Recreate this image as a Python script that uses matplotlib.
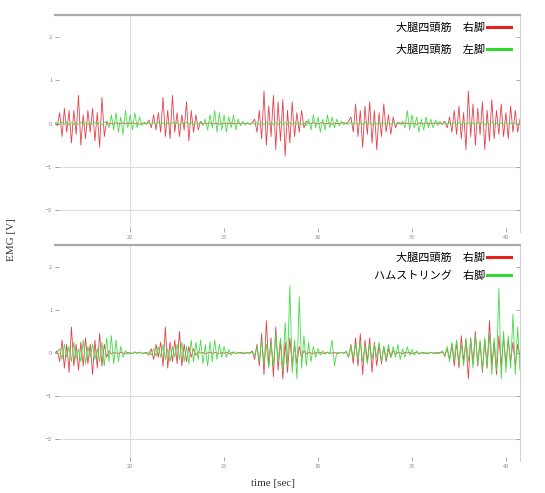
import numpy as np
import matplotlib
matplotlib.use("Agg")
import matplotlib.pyplot as plt
from matplotlib.lines import Line2D

plt.rcParams['font.family'] = ['Noto Sans CJK JP', 'DejaVu Sans']

# sampling of the recorded signals
t_start = 16.0
t_step = 0.125
n_samples = 199
time = t_start + t_step * np.arange(n_samples)

x_ticks = [20, 25, 30, 35, 40]
y_ticks = [-2, -1, 0, 1, 2]

top_labels = ["大腿四頭筋　右脚", "大腿四頭筋　左脚"]
bottom_labels = ["大腿四頭筋　右脚", "ハムストリング　右脚"]

top_red = [
    0.02, -0.05, 0.25, -0.3, 0.35, -0.2, 0.3, -0.45,
    0.3, -0.25, 0.65, -0.5, 0.2, -0.35, 0.3, -0.2,
    0.35, -0.4, 0.25, -0.55, 0.6, -0.3, 0.05, -0.02,
    0.01, -0.02, 0.02, 0.0, -0.01, 0.02, -0.01, 0.01,
    0.0, 0.02, -0.01, 0.01, -0.02, 0.01, 0.0, -0.01,
    0.08, -0.1, 0.2, -0.15, 0.25, -0.2, 0.6, -0.3,
    0.3, -0.35, 0.65, -0.2, 0.25, -0.3, 0.2, -0.15,
    0.5, -0.4, 0.3, -0.2, 0.2, -0.15, 0.05, -0.02,
    0.01, -0.01, 0.02, -0.01, 0.0, 0.01, -0.02, 0.01,
    0.0, 0.01, -0.01, 0.02, -0.01, 0.0, 0.01, -0.01,
    0.02, -0.01, 0.01, -0.02, 0.01, 0.1, -0.2, 0.3,
    -0.35, 0.75, -0.5, 0.4, -0.3, 0.65, -0.6, 0.5,
    -0.4, 0.55, -0.75, 0.3, -0.45, 0.5, -0.3, 0.25,
    -0.2, 0.3, -0.1, 0.05, 0.01, -0.01, 0.02, 0.0,
    -0.01, 0.01, 0.02, -0.01, 0.0, 0.01, -0.02, 0.01,
    0.0, -0.01, 0.01, 0.02, -0.01, 0.05, 0.15, -0.2,
    0.45, -0.3, 0.3, -0.55, 0.4, -0.25, 0.5, -0.45,
    0.3, -0.6, 0.25, -0.3, 0.45, -0.2, 0.2, -0.25,
    0.15, -0.1, 0.03, 0.01, -0.01, 0.02, 0.0, -0.01,
    0.01, 0.0, -0.02, 0.01, 0.01, -0.01, 0.02, 0.0,
    -0.01, 0.01, 0.0, 0.02, -0.01, 0.01, 0.05, -0.1,
    0.15, -0.2, 0.3, -0.25, 0.4, -0.35, 0.25, -0.6,
    0.75, -0.3, 0.45, -0.5, 0.35, -0.25, 0.5, -0.6,
    0.3, -0.4, 0.55, -0.35, 0.3, -0.25, 0.45, -0.3,
    0.25, -0.35, 0.4, -0.2, 0.3, -0.2, 0.1,
]

top_green = [
    0.0, 0.02, -0.03, 0.04, -0.02, 0.03, -0.04, 0.02,
    -0.03, 0.02, -0.02, 0.03, -0.02, 0.02, -0.03, 0.02,
    -0.02, 0.03, -0.02, 0.02, -0.03, 0.02, 0.05, -0.1,
    0.2, -0.15, 0.25, -0.2, 0.15, -0.25, 0.3, -0.1,
    0.2, -0.15, 0.25, -0.1, 0.15, -0.05, 0.03, -0.02,
    0.02, -0.03, 0.02, -0.02, 0.03, -0.02, 0.02, -0.03,
    0.02, -0.02, 0.03, -0.02, 0.02, -0.03, 0.02, -0.02,
    0.03, -0.02, 0.02, -0.03, 0.02, -0.02, 0.05, -0.05,
    0.1, -0.15, 0.2, -0.1, 0.3, -0.2, 0.25, -0.15,
    0.2, -0.2, 0.15, -0.1, 0.2, -0.15, 0.1, -0.05,
    0.05, -0.03, 0.02, -0.02, 0.03, -0.02, 0.02, -0.03,
    0.02, -0.02, 0.03, -0.02, 0.02, -0.03, 0.02, -0.02,
    0.03, -0.02, 0.02, -0.03, 0.02, -0.02, 0.03, -0.02,
    0.02, -0.03, 0.02, -0.05, 0.1, -0.15, 0.2, -0.1,
    0.15, -0.2, 0.1, -0.15, 0.2, -0.1, 0.15, -0.1,
    0.1, -0.05, 0.05, -0.03, 0.02, -0.02, 0.03, -0.02,
    0.02, -0.03, 0.02, -0.02, 0.03, -0.02, 0.02, -0.03,
    0.02, -0.02, 0.03, -0.02, 0.02, -0.03, 0.02, -0.02,
    0.03, -0.02, 0.02, -0.03, 0.05, -0.1, 0.3, -0.15,
    0.2, -0.1, 0.15, -0.2, 0.1, -0.15, 0.15, -0.1,
    0.1, -0.1, 0.08, -0.05, 0.05, -0.03, 0.02, -0.02,
    0.03, -0.02, 0.02, -0.03, 0.02, -0.02, 0.03, -0.02,
    0.02, -0.03, 0.02, -0.02, 0.03, -0.02, 0.02, -0.03,
    0.02, -0.02, 0.03, -0.02, 0.02, -0.03, 0.02, -0.02,
    0.03, -0.02, 0.02, -0.03, 0.02, -0.02, 0.03,
]

bottom_red = [
    0.0, 0.05, -0.2, 0.3, -0.35, 0.2, -0.45, 0.6,
    -0.3, 0.2, -0.4, 0.25, -0.3, 0.35, -0.25, 0.2,
    -0.5, 0.3, -0.35, 0.45, -0.3, 0.2, -0.1, 0.05,
    -0.02, 0.01, 0.0, -0.01, 0.02, 0.0, -0.01, 0.01,
    0.0, -0.01, 0.01, 0.0, 0.02, -0.01, 0.0, 0.01,
    -0.05, 0.1, -0.15, 0.2, -0.1, 0.25, -0.3, 0.6,
    -0.35, 0.25, -0.2, 0.3, -0.25, 0.5, -0.3, 0.2,
    -0.2, 0.15, -0.1, 0.1, -0.05, 0.03, 0.0, 0.01,
    -0.01, 0.0, 0.02, -0.01, 0.01, 0.0, -0.01, 0.01,
    0.0, 0.01, -0.01, 0.0, 0.02, -0.01, 0.0, 0.01,
    -0.01, 0.0, 0.01, 0.0, 0.05, -0.15, 0.2, -0.3,
    0.45, -0.5, 0.75, -0.3, 0.35, -0.55, 0.6, -0.4,
    0.3, -0.6, 0.25, -0.45, 0.35, -0.3, 0.2, -0.25,
    0.15, -0.1, 0.05, -0.02, 0.01, 0.0, -0.01, 0.01,
    0.0, 0.01, -0.01, 0.0, 0.02, -0.01, 0.0, 0.01,
    -0.01, 0.0, 0.01, 0.0, 0.03, -0.1, 0.2, -0.25,
    0.35, -0.3, 0.45, -0.5, 0.3, -0.2, 0.35, -0.45,
    0.25, -0.3, 0.2, -0.25, 0.15, -0.2, 0.1, -0.1,
    0.05, -0.02, 0.01, 0.0, -0.01, 0.01, 0.0, 0.01,
    -0.01, 0.0, 0.02, -0.01, 0.0, 0.01, -0.01, 0.0,
    0.01, 0.0, -0.01, 0.01, 0.0, 0.02, -0.05, 0.1,
    -0.15, 0.2, -0.3, 0.25, -0.35, 0.4, -0.2, 0.3,
    -0.6, 0.35, -0.25, 0.5, -0.3, 0.25, -0.45, 0.3,
    -0.35, 0.75, -0.3, 0.25, -0.5, 0.4, -0.3, 0.35,
    -0.25, 0.3, -0.2, 0.25, -0.3, 0.2, -0.1,
]

bottom_green = [
    0.0, 0.02, 0.1, -0.15, 0.2, -0.1, 0.15, -0.2,
    0.25, -0.15, 0.1, -0.2, 0.3, -0.25, 0.15, -0.1,
    0.2, -0.15, 0.1, -0.2, 0.25, -0.3, 0.35, -0.2,
    0.4, -0.25, 0.3, -0.2, 0.15, -0.1, 0.05, -0.03,
    0.02, -0.02, 0.03, -0.01, 0.02, -0.02, 0.01, -0.02,
    0.03, -0.05, 0.1, -0.08, 0.15, -0.1, 0.2, -0.15,
    0.1, -0.2, 0.15, -0.1, 0.2, -0.15, 0.25, -0.2,
    0.15, -0.25, 0.3, -0.2, 0.25, -0.15, 0.3, -0.25,
    0.2, -0.3, 0.25, -0.2, 0.3, -0.15, 0.2, -0.1,
    0.15, -0.1, 0.08, -0.05, 0.03, -0.02, 0.02, -0.01,
    0.02, -0.02, 0.01, -0.02, 0.03, -0.05, 0.15, -0.2,
    0.3, -0.25, 0.2, -0.35, 0.25, -0.3, 0.45, -0.2,
    0.35, -0.4, 0.7, -0.3, 1.55, -0.45, 0.3, -0.6,
    1.3, -0.35, 0.4, -0.3, 0.25, -0.2, 0.15, -0.1,
    0.1, -0.05, 0.05, -0.03, 0.02, -0.02, 0.3, -0.3,
    0.02, -0.01, 0.02, -0.02, 0.05, -0.1, 0.15, -0.1,
    0.2, -0.15, 0.25, -0.2, 0.15, -0.25, 0.2, -0.15,
    0.2, -0.1, 0.25, -0.2, 0.15, -0.15, 0.2, -0.1,
    0.15, -0.1, 0.2, -0.15, 0.1, -0.1, 0.15, -0.05,
    0.08, -0.05, 0.05, -0.03, 0.02, -0.02, 0.01, -0.02,
    0.02, -0.01, 0.02, -0.02, 0.01, 0.05, -0.1, 0.15,
    -0.2, 0.25, -0.15, 0.3, -0.25, 0.2, -0.3, 0.35,
    -0.2, 0.3, -0.35, 0.4, -0.25, 0.3, -0.4, 0.35,
    -0.3, 0.45, -0.5, 0.35, -0.4, 1.5, -0.6, 0.5,
    -0.45, 0.4, -0.35, 0.9, -0.5, 0.6, -0.4,
]

RED = '#e6404a'
GREEN = '#44dd44'

W, H = 545, 493
fig = plt.figure(figsize=(W / 100, H / 100), dpi=100)

def fx(px):
    return px / W

def fy(py):
    return 1 - py / H

left, right = 55, 520
ax_top = fig.add_axes([fx(left), fy(232), fx(right - left), (232 - 15) / H])
ax_bot = fig.add_axes([fx(left), fy(461), fx(right - left), (461 - 245) / H])

panels = [
    (ax_top, top_red, top_green, top_labels, 1.0),
    (ax_bot, bottom_red, bottom_green, bottom_labels, 0.7),
]

for ax, red, green, labels, spacing in panels:
    ax.set_xlim(16.0, 40.75)
    ax.set_ylim(-2.5, 2.5)
    ax.axhline(-1, color='#dddddd', lw=0.8, zorder=0)
    ax.axhline(-2, color='#dddddd', lw=0.8, zorder=0)
    ax.axvline(20, color='#dddddd', lw=0.8, zorder=0)
    ax.plot(time, red, color=RED, lw=0.6, zorder=2)
    ax.plot(time, green, color=GREEN, lw=0.6, zorder=3)
    ax.set_xticks(x_ticks)
    ax.set_yticks(y_ticks)
    ax.tick_params(axis='both', direction='in', length=3, width=0.6,
                   colors='#999999', labelsize=4, labelcolor='#888888',
                   right=True, pad=2)
    ax.spines['top'].set_color('#aaaaaa')
    ax.spines['top'].set_linewidth(1.6)
    ax.spines['right'].set_color('#d0d0d0')
    ax.spines['right'].set_linewidth(0.8)
    ax.spines['left'].set_visible(False)
    ax.spines['bottom'].set_visible(False)
    handles = [Line2D([0], [0], color='#e82020', lw=2.2),
               Line2D([0], [0], color='#30d830', lw=2.2)]
    ax.legend(handles, labels, loc='upper right', frameon=False,
              markerfirst=False, fontsize=8, handlelength=2.2,
              handletextpad=0.15, labelspacing=spacing, borderaxespad=0.2,
              bbox_to_anchor=(0.995, 0.995))

fig.text(fx(12), fy(240), "EMG [V]", rotation=90, ha='center', va='center',
         family='Liberation Serif', fontsize=8, color='#333333')
fig.text(fx(273), fy(483), "time [sec]", ha='center', va='center',
         family='Liberation Serif', fontsize=8, color='#333333')

fig.savefig("out.png", dpi=100)
